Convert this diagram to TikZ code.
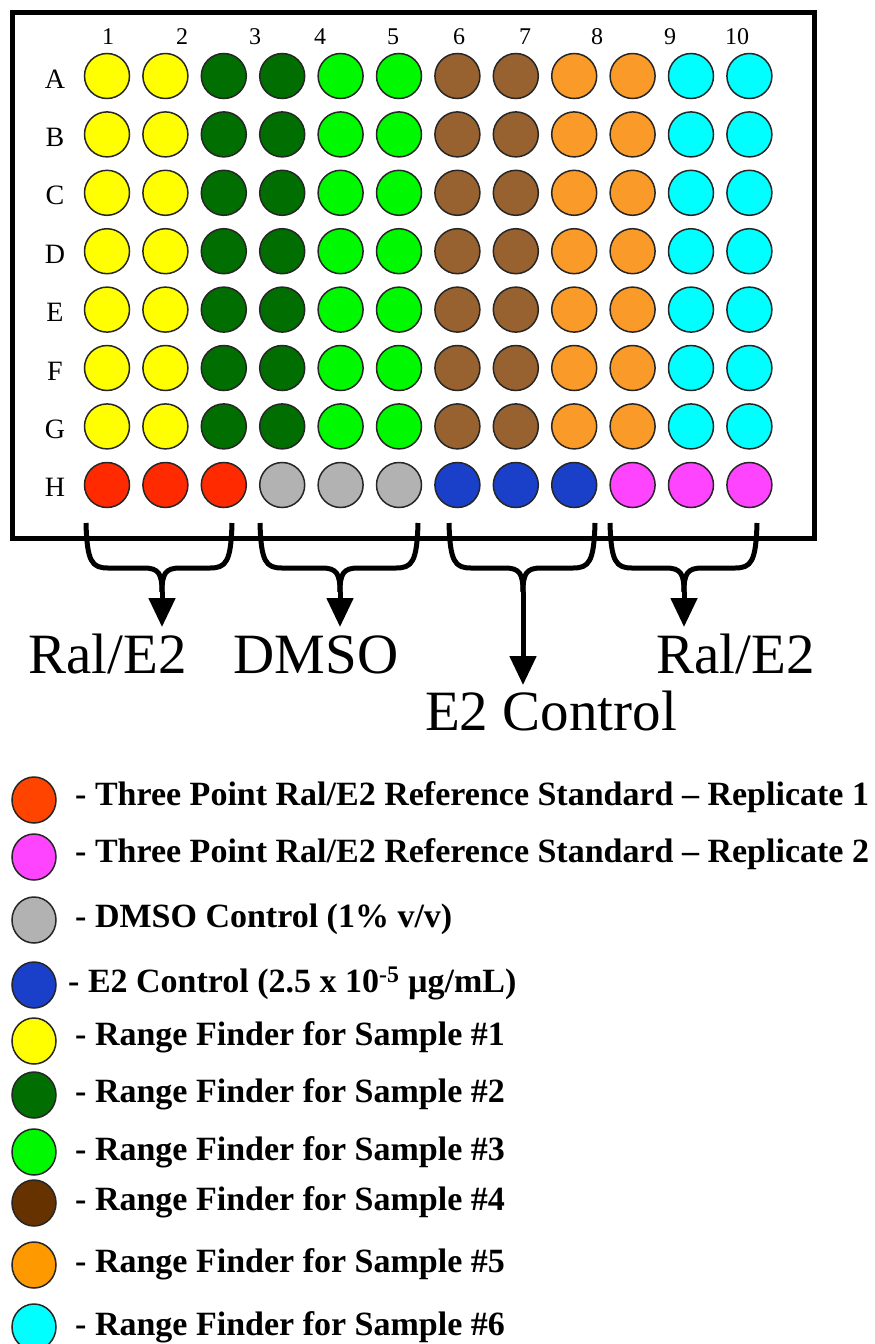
\documentclass[tikz,border=0pt]{standalone}
\usepackage{fontspec}
\setmainfont{Liberation Serif}
\usetikzlibrary{arrows.meta, positioning, shapes.geometric}

% well colours
\definecolor{wyellow}{HTML}{FFFF00}
\definecolor{wdkgreen}{HTML}{006E00}
\definecolor{wgreen}{HTML}{00F800}
\definecolor{wbrown}{HTML}{986230}
\definecolor{worange}{HTML}{FA9A28}
\definecolor{wcyan}{HTML}{00FFFF}
\definecolor{wred}{HTML}{FF2A00}
\definecolor{wgray}{HTML}{B2B2B2}
\definecolor{wblue}{HTML}{1A3FC8}
\definecolor{wpink}{HTML}{FF44FF}
% legend colours
\definecolor{kred}{HTML}{FF4400}
\definecolor{kbrown}{HTML}{663300}
\definecolor{korange}{HTML}{FF9900}

\tikzset{
    well/.style={circle, draw=black!85, line width=1.5pt, minimum size=45pt, inner sep=0pt},
    key/.style={ellipse, draw=black!85, line width=1.5pt, minimum width=44pt, minimum height=46pt, inner sep=0pt},
    collab/.style={font=\fontsize{24}{26}\selectfont, inner sep=0pt},
    rowlab/.style={font=\fontsize{28}{30}\selectfont, inner sep=0pt},
    grouplab/.style={font=\fontsize{57}{60}\selectfont, inner sep=0pt, anchor=base},
    keytext/.style={font=\fontsize{34}{36}\selectfont\bfseries, inner sep=0pt, anchor=base west},
    brace/.style={line width=5pt, line join=round},
    brace arrow/.style={line width=5pt, -{Triangle[width=26pt,length=29pt]}},
}

\begin{document}
\begin{tikzpicture}[x=1pt, y=-1pt]
\useasboundingbox (0,0) rectangle (875,1344);

% plate frame
\draw[line width=5pt] (12.5,12.5) rectangle (814.5,538);

% column numbers
\foreach \n/\x in {1/108, 2/182, 3/255, 4/320, 5/393, 6/459, 7/525, 8/597, 9/670, 10/737}
    \node[collab] (col\n) at (\x,37) {\n};

% row letters
\foreach \lab [count=\r] in {A,...,H}
    \node[rowlab] (row\lab) at (55,{79+58.4*(\r-1)}) {\lab};

% rows A-G
\foreach \col [count=\c] in {wyellow,wyellow,wdkgreen,wdkgreen,wgreen,wgreen,wbrown,wbrown,worange,worange,wcyan,wcyan}
    \foreach \r in {1,...,7}
        \node[well, fill=\col] (w\r-\c) at ({107+58.4*(\c-1)},{76+58.4*(\r-1)}) {};

% row H
\foreach \col [count=\c] in {wred,wred,wred,wgray,wgray,wgray,wblue,wblue,wblue,wpink,wpink,wpink}
    \node[well, fill=\col] (w8-\c) at ({107+58.4*(\c-1)},485) {};

% braces under row H
\foreach \l/\m/\r/\t [count=\i] in {86/162/232/627, 260/340/418/627, 449/523/595/685, 610/684/757/627} {
    \coordinate (bl\i) at (\l,523);
    \coordinate (br\i) at (\r,523);
    \coordinate (bm\i) at (\m,592);
    \coordinate (bt\i) at (\m,\t);
    \draw[brace] (bl\i) .. controls ({\l+1},562) and ({\l+6},568) .. ({\l+22},568)
        -- ({\m-18},568) .. controls ({\m-3},568) and (\m,574) .. (bm\i);
    \draw[brace] (br\i) .. controls ({\r-1},562) and ({\r-6},568) .. ({\r-22},568)
        -- ({\m+18},568) .. controls ({\m+3},568) and (\m,574) .. (bm\i);
    \draw[brace arrow] (bm\i) -- (bt\i);
}

% group labels
\node[grouplab] (ral1) at (107.5,673) {Ral/E2};
\node[grouplab] (dmso) at (316,673) {DMSO};
\node[grouplab] (e2c) at (551,730) {E2 Control};
\node[grouplab] (ral2) at (735.5,673) {Ral/E2};

% legend
\node[key, fill=kred] (k1) at (34,800) {};
\node[key, fill=wpink] (k2) at (34,857) {};
\node[key, fill=wgray] (k3) at (34,920) {};
\node[key, fill=wblue] (k4) at (34,985) {};
\node[key, fill=wyellow] (k5) at (34,1041) {};
\node[key, fill=wdkgreen] (k6) at (34,1095) {};
\node[key, fill=wgreen] (k7) at (34,1152) {};
\node[key, fill=kbrown] (k8) at (34,1203) {};
\node[key, fill=korange] (k9) at (34,1265) {};
\node[key, fill=wcyan] (k10) at (34,1327) {};

\node[keytext] (t1) at (75,805) {- Three Point Ral/E2 Reference Standard -- Replicate 1};
\node[keytext] (t2) at (75,862) {- Three Point Ral/E2 Reference Standard -- Replicate 2};
\node[keytext] (t3) at (75,927) {- DMSO Control (1\% v/v)};
\node[keytext] (t4) at (68,992) {- E2 Control (2.5 x 10\textsuperscript{-5} µg/mL)};
\node[keytext] (t5) at (75,1045) {- Range Finder for Sample \#1};
\node[keytext] (t6) at (75,1102) {- Range Finder for Sample \#2};
\node[keytext] (t7) at (75,1160) {- Range Finder for Sample \#3};
\node[keytext] (t8) at (75,1210) {- Range Finder for Sample \#4};
\node[keytext] (t9) at (75,1272) {- Range Finder for Sample \#5};
\node[keytext] (t10) at (75,1335) {- Range Finder for Sample \#6};

\end{tikzpicture}
\end{document}
